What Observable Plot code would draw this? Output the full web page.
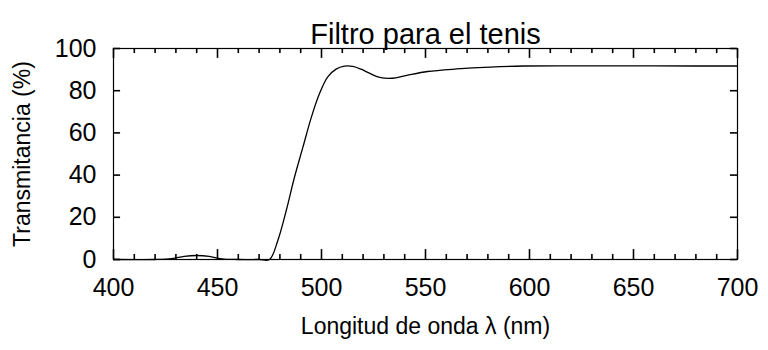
<!DOCTYPE html>
<html>
<head>
<meta charset="utf-8">
<script src="https://cdn.jsdelivr.net/npm/d3@7"></script>
<script src="https://cdn.jsdelivr.net/npm/@observablehq/plot@0.6"></script>
<style>
  html, body { margin: 0; padding: 0; background: #fff; }
  svg { display: block; }
</style>
</head>
<body>
<div id="chart"></div>
<script>
const title = "Filtro para el tenis";
const xLabel = "Longitud de onda λ (nm)";
const yLabel = "Transmitancia (%)";

const wavelength = [400, 420, 428, 434, 440, 446, 452, 460, 470, 475, 479, 483, 487, 491, 495, 499, 503, 507, 511, 515, 519, 523, 528, 534, 541, 551, 565, 581, 597, 620, 650, 680, 700];
const transmittance = [0, 0, 0.4, 1.5, 1.9, 1.5, 0.3, 0, 0, 0, 9, 23, 39, 53, 67, 78.5, 86.5, 90.2, 91.6, 91.5, 90.2, 88.3, 86.3, 85.9, 87.3, 89.1, 90.3, 91.2, 91.7, 91.8, 91.8, 91.7, 91.7];

const xMajor = [400, 450, 500, 550, 600, 650, 700];
const xMinor = [410, 420, 430, 440, 460, 470, 480, 490, 510, 520, 530, 540, 560, 570, 580, 590, 610, 620, 630, 640, 660, 670, 680, 690];
const yMajor = [0, 20, 40, 60, 80, 100];

const data = wavelength.map((w, i) => ({w, t: transmittance[i]}));
const xTicks = xMinor.concat(xMajor);

const font = "'Liberation Sans', Arial, Helvetica, sans-serif";
// inward tick lengths, in data units
const majLen = 4.7, minLen = 2.4, yLen = 3.4;
const tickStyle = {stroke: "black", strokeWidth: 1.6};

const chart = Plot.plot({
  width: 768,
  height: 350,
  marginLeft: 113,
  marginRight: 31,
  marginTop: 48,
  marginBottom: 91,
  style: {fontFamily: font, background: "#fff", color: "#000"},
  x: {domain: [400, 700]},
  y: {domain: [0, 100]},
  marks: [
    Plot.frame({stroke: "#000", strokeWidth: 1.2}),
    // inward ticks on all four sides
    Plot.ruleX(xTicks, {x: d => d, y1: 0, y2: d => (xMajor.includes(d) ? majLen : minLen), ...tickStyle}),
    Plot.ruleX(xTicks, {x: d => d, y1: 100, y2: d => 100 - (xMajor.includes(d) ? majLen : minLen), ...tickStyle}),
    Plot.ruleY(yMajor, {y: d => d, x1: 400, x2: 400 + yLen, ...tickStyle}),
    Plot.ruleY(yMajor, {y: d => d, x1: 700, x2: 700 - yLen, ...tickStyle}),
    // tick labels
    Plot.axisX({anchor: "bottom", ticks: xMajor, tickSize: 0, tickPadding: 19, fontSize: 25, label: null}),
    Plot.axisY({anchor: "left", ticks: yMajor, tickSize: 0, tickPadding: 17, fontSize: 25, label: null}),
    // transmittance curve
    Plot.line(data, {x: "w", y: "t", curve: "catmull-rom", stroke: "#000", strokeWidth: 1.3}),
    // title and axis labels
    Plot.text([title], {text: d => d, frameAnchor: "top", dy: -25.5, fontSize: 29, fill: "#000"}),
    Plot.text([xLabel], {text: d => d, frameAnchor: "bottom", dy: 74.5, fontSize: 23, fill: "#000"}),
    Plot.text([yLabel], {text: d => d, frameAnchor: "left", textAnchor: "middle", dx: -91, rotate: -90, fontSize: 23, fill: "#000"})
  ]
});
document.getElementById("chart").appendChild(chart);
</script>
</body>
</html>
